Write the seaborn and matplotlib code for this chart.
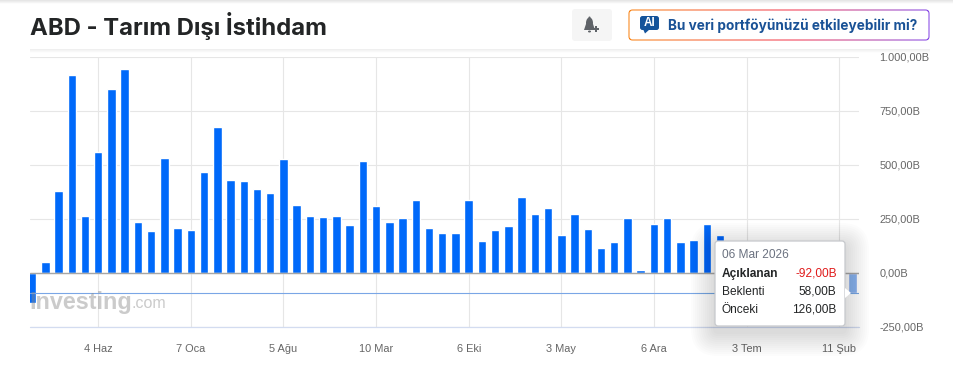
#!/usr/bin/env python3
# -*- coding: utf-8 -*-
"""ABD - Tarım Dışı İstihdam: aylık açıklanan değerler, sütun grafiği"""

import numpy as np
import pandas as pd
import matplotlib
matplotlib.use('Agg')
import matplotlib.pyplot as plt
import seaborn as sns
from matplotlib.patches import FancyBboxPatch, Polygon, Ellipse, Rectangle

W, H = 954, 371

# tooltip arkasında kalan sütunlar okunamıyor, nan bırakıldı
actual_values = [
    -140, 52, 381, 918, 265, 562, 853, 946, 238, 196, 534, 210, 201, 469, 677, 432,
    427, 390, 372, 529, 316, 265, 261, 265, 224, 520, 312, 238, 256, 339, 210, 187,
    187, 339, 150, 201, 219, 353, 275, 302, 177, 275, 205, 117, 145, 256, 15, 228,
    256, 145, 154, 228, 177,
    np.nan, np.nan, np.nan, np.nan, np.nan, np.nan, np.nan, np.nan, np.nan,
    -92,
]
hovered_index = 62
x_tick_index = [5, 12, 19, 26, 33, 40, 47, 54, 61]
x_tick_labels = ['4 Haz', '7 Oca', '5 Ağu', '10 Mar', '6 Eki', '3 May', '6 Ara', '3 Tem', '11 Şub']
y_ticks = [-250, 0, 250, 500, 750, 1000]
y_tick_labels = ['-250,00B', '0,00B', '250,00B', '500,00B', '750,00B', '1.000,00B']
tooltip_date = '06 Mar 2026'
tooltip_rows = [('Açıklanan', '-92,00B'), ('Beklenti', '58,00B'), ('Önceki', '126,00B')]
hover_level = -92

BLUE = '#0069fa'
SANS = ['Liberation Sans', 'DejaVu Sans']

sns.set_theme(style='whitegrid', rc={
    'grid.color': '#e6e6e6',
    'grid.linewidth': 0.8,
    'axes.edgecolor': 'white',
})
plt.rcParams['font.family'] = SANS

fig = plt.figure(figsize=(W / 100, H / 100), dpi=100, facecolor='white')

# grafik alanı: x 30-859, y 57-327 piksel
ax = fig.add_axes([30 / W, 1 - 327 / H, 829 / W, 270 / H])

df = pd.DataFrame({'sira': np.arange(len(actual_values)), 'deger': actual_values})
df['durum'] = np.where(df['sira'] == hovered_index, 'secili', 'normal')
sns.barplot(data=df, x='sira', y='deger', hue='durum', native_scale=True, dodge=False,
            palette={'normal': BLUE, 'secili': '#8ab5f0'}, width=0.64,
            saturation=1, legend=False, ax=ax)

ax.set_xlim((30 - 32.1) / 13.23, (859 - 32.1) / 13.23)
ax.set_ylim(y_ticks[0], y_ticks[-1])
ax.set_xlabel('')
ax.set_ylabel('')
ax.set_axisbelow(True)
ax.grid(True, axis='both')
ax.set_xticks(x_tick_index, x_tick_labels)
ax.set_yticks(y_ticks, y_tick_labels)
ax.yaxis.tick_right()
ax.tick_params(axis='x', length=0, pad=12.5, labelsize=7.9, labelcolor='#666666')
ax.tick_params(axis='y', length=0, pad=14.5, labelsize=7.9, labelcolor='#666666')
for lab in ax.get_yticklabels():
    lab.set_horizontalalignment('left')
for side in ax.spines.values():
    side.set_visible(False)
ax.axhline(0, color='#a6a6a6', lw=1.0, zorder=3)
ax.axhline(y_ticks[0], color='#d3dcf0', lw=0.9, zorder=3, clip_on=False)
ax.axhline(hover_level, color='#7aa6e6', lw=0.8, zorder=3)

# üst kısım, filigran ve tooltip için piksel koordinatlı katman
ov = fig.add_axes([0, 0, 1, 1], zorder=5)
ov.patch.set_alpha(0)
ov.axis('off')

# üstteki gölgeler
shade = np.linspace(0.86, 1, 32).reshape(-1, 1)
ov.imshow(shade, extent=(0, W, 4.5, 0), cmap='gray', vmin=0, vmax=1, aspect='auto')
shade2 = np.linspace(0.93, 1, 32).reshape(-1, 1)
ov.imshow(shade2, extent=(30, 930, 53, 49), cmap='gray', vmin=0, vmax=1, aspect='auto')

ov.text(30, 26, 'ABD - Tarım Dışı İstihdam', family=['Inter', 'DejaVu Sans'], fontsize=17.2,
        fontweight='bold', color='#232526', va='center', ha='left')

# filigran
ov.text(29, 302, 'Investing', family=SANS, fontsize=16.8, fontweight='bold', color='#8c8c8c',
        alpha=0.45, va='center', ha='left')
ov.text(132, 303, '.com', family=SANS, fontsize=11.5, color='#a8a8a8', alpha=0.6,
        va='center', ha='left')

# zil düğmesi
ov.add_patch(FancyBboxPatch((572, 9), 40, 32, boxstyle='round,pad=0,rounding_size=3',
                            fc='#f5f5f5', ec='none'))
bell = '#5f6368'
ov.add_patch(Ellipse((589.5, 23), 7, 11, fc=bell, ec='none'))
ov.add_patch(Polygon([(586, 24), (593, 24), (595, 30), (584, 30)], fc=bell, ec='none'))
ov.add_patch(Ellipse((589.5, 17.5), 2, 2, fc=bell, ec='none'))
ov.add_patch(Ellipse((589.5, 31.5), 3, 2, fc=bell, ec='none'))
ov.add_patch(Rectangle((593, 28.3), 6.5, 1.6, fc=bell, ec='none'))
ov.add_patch(Rectangle((595.4, 25.8), 1.6, 6.5, fc=bell, ec='none'))

# yapay zeka düğmesi: renk geçişli çerçeve
frame = FancyBboxPatch((628.5, 9.5), 301, 31, boxstyle='round,pad=0,rounding_size=4',
                       fc='none', ec='none', transform=ov.transData)
ov.add_patch(frame)
stops = np.array([[0.98, 0.50, 0.05], [0.95, 0.20, 0.30], [0.50, 0.25, 0.90]])
grad_x = np.linspace(0, 1, 256)
grad = np.stack([np.interp(grad_x, [0, 0.55, 1], stops[:, c]) for c in range(3)], axis=-1)
im = ov.imshow(grad[np.newaxis, :, :], extent=(628, 931, 41, 9), aspect='auto')
im.set_clip_path(frame)
ov.add_patch(FancyBboxPatch((629.5, 10.5), 299, 29, boxstyle='round,pad=0,rounding_size=3',
                            fc='white', ec='none'))
ov.add_patch(FancyBboxPatch((640, 16), 19, 14, boxstyle='round,pad=0,rounding_size=2.5',
                            fc='#14539a', ec='none'))
ov.add_patch(Polygon([(643, 29), (650, 29), (645, 33.5)], fc='#14539a', ec='none'))
ov.text(649.5, 23, 'AI', family=SANS, fontsize=8.5, fontweight='bold', color='white',
        ha='center', va='center')
ov.text(668, 25.5, 'Bu veri portföyünüzü etkileyebilir mi?', family=['Inter', 'DejaVu Sans'],
        fontsize=9.8, fontweight='bold', color='#1a5296', ha='left', va='center')

# tooltip gölgesi
for grow in range(24, 0, -2):
    ov.add_patch(FancyBboxPatch((715 - grow, 241 - grow + 6), 130 + 2 * grow, 85 + 2 * grow,
                                boxstyle=f'round,pad=0,rounding_size={grow + 3}',
                                fc='black', ec='none', alpha=0.011))
ov.add_patch(FancyBboxPatch((715, 241), 130, 85, boxstyle='round,pad=0,rounding_size=3',
                            fc='white', ec='#c6c8cc', lw=0.9))
ov.add_patch(Polygon([(845, 288), (851, 293), (845, 298)], fc='white', ec='none'))

ov.text(721.7, 255.5, tooltip_date, fontsize=8.6, color='#6b7280', ha='left', va='center')
for (label, value), y in zip(tooltip_rows, [274, 292, 310]):
    first = label == tooltip_rows[0][0]
    ov.text(721.7, y, label, fontsize=8.6, color='#232526', ha='left', va='center',
            fontweight='bold' if first else 'normal')
    ov.text(836.7, y, value, fontsize=8.6, color='#e01b1b' if first else '#232526',
            ha='right', va='center')

ov.set_xlim(0, W)
ov.set_ylim(H, 0)

fig.savefig('out.png', dpi=100, facecolor='white')
plt.close(fig)
